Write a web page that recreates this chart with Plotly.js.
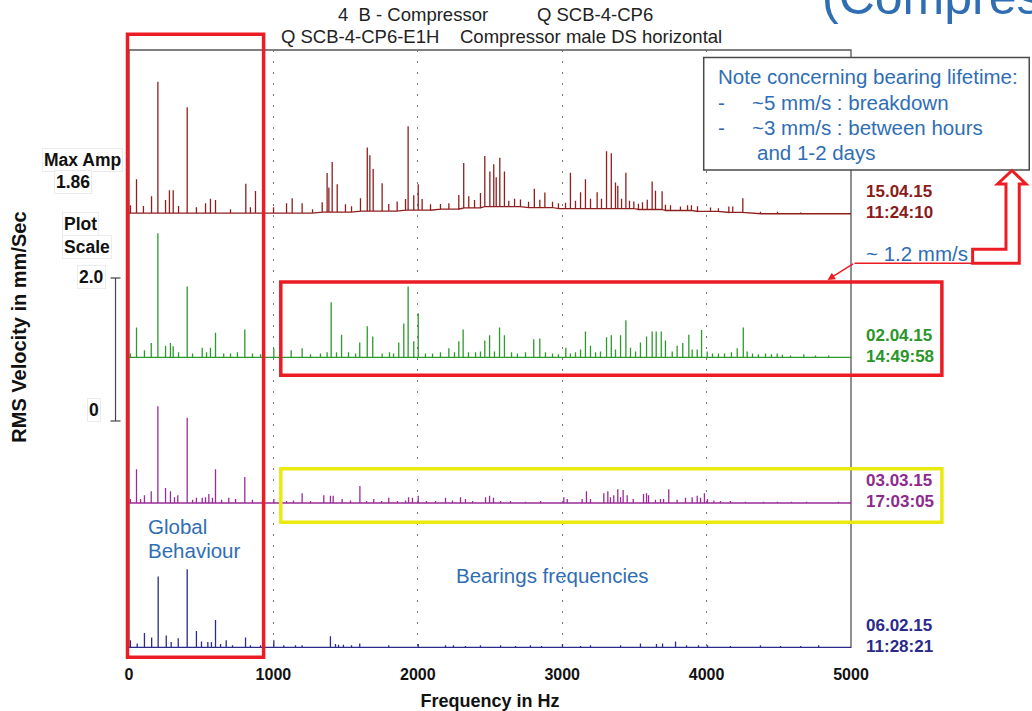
<!DOCTYPE html>
<html><head><meta charset="utf-8">
<script src="https://cdn.plot.ly/plotly-3.0.1.min.js"></script>
<style>html,body{margin:0;padding:0;background:#fff;overflow:hidden}#chart{width:1032px;height:711px}</style>
</head><body><div id="chart"></div>
<script>
// ---------------- data ----------------
const freqTicks = [0, 1000, 2000, 3000, 4000, 5000];
const freqTickLabels = ['0', '1000', '2000', '3000', '4000', '5000'];

const seriesDates = ['15.04.15', '02.04.15', '03.03.15', '06.02.15'];
const seriesTimes = ['11:24:10', '14:49:58', '17:03:05', '11:28:21'];

// 15.04.15 spectrum (Hz, mm/s above local floor)
const redFreq = [10,52,100,156,200,253,280,306,343,403,
  467,530,564,599,703,809,841,876,1001,1091,
  1130,1199,1271,1338,1372,1384,1407,1442,1499,1541,
  1603,1650,1668,1691,1753,1799,1857,1915,1933,1972,
  2003,2030,2088,2157,2215,2284,2318,2353,2393,2434,
  2464,2499,2526,2543,2568,2600,2630,2670,2711,2767,
  2807,2845,2880,2933,2974,3023,3057,3092,3127,3161,
  3196,3242,3272,3307,3340,3369,3385,3411,3441,3466,
  3496,3528,3556,3589,3623,3646,3692,3715,3750,3819,
  3868,3895,3937,4027,4082,4154,4181,4251,4373,4491,
  4651];
const redAmp = [0.12,0.52,0.11,0.26,2.02,0.20,0.35,0.35,0.11,1.63,
  0.09,0.15,0.22,0.20,0.06,0.45,0.09,0.34,0.09,0.15,
  0.23,0.15,0.06,0.15,0.60,0.38,0.77,0.43,0.12,0.09,
  0.20,0.98,0.86,0.65,0.43,0.11,0.15,0.17,1.29,0.23,
  0.40,0.17,0.09,0.08,0.09,0.22,0.69,0.18,0.12,0.23,
  0.78,0.54,0.65,0.45,0.75,0.54,0.09,0.12,0.11,0.09,
  0.29,0.12,0.23,0.09,0.08,0.09,0.55,0.12,0.25,0.45,
  0.15,0.25,0.15,0.88,0.85,0.40,0.35,0.15,0.55,0.12,
  0.11,0.09,0.11,0.15,0.43,0.29,0.28,0.09,0.08,0.06,
  0.08,0.08,0.08,0.06,0.05,0.09,0.09,0.22,0.03,0.03,
  0.02];
// noise-floor hump of the 15.04.15 spectrum (start Hz, level)
const redFloorFreq  = [0, 1300, 1600, 1900, 2100, 2300, 2450, 2750, 2950, 3500, 3700, 3900, 4100, 4300];
const redFloorLevel = [0, 0.015, 0.03, 0.045, 0.06, 0.08, 0.10, 0.085, 0.07, 0.055, 0.04, 0.025, 0.01, -0.01];

// 02.04.15 spectrum
const greenFreq = [10,52,107,154,200,253,287,306,343,403,
  440,507,537,564,599,656,703,751,802,855,
  911,1003,1123,1199,1257,1326,1372,1400,1437,1472,
  1520,1569,1598,1650,1688,1753,1804,1832,1868,1903,
  1933,1972,2003,2053,2102,2157,2215,2254,2284,2314,
  2351,2400,2434,2464,2497,2531,2566,2600,2649,2690,
  2746,2803,2845,2884,2933,2974,3025,3057,3092,3127,
  3161,3196,3231,3265,3307,3340,3369,3404,3441,3473,
  3508,3542,3584,3623,3651,3686,3715,3762,3796,3835,
  3877,3900,3935,3965,4004,4041,4082,4124,4172,4212,
  4254,4281,4318,4359,4408,4449,4489,4525,4581,4673,
  4754,4846];
const greenAmp = [0.06,0.46,0.11,0.22,1.91,0.18,0.22,0.17,0.08,1.09,
  0.06,0.15,0.08,0.15,0.38,0.06,0.06,0.08,0.43,0.06,
  0.05,0.14,0.11,0.14,0.05,0.06,0.08,0.85,0.08,0.35,
  0.08,0.06,0.23,0.48,0.32,0.06,0.08,0.06,0.23,0.52,
  1.09,0.25,0.68,0.06,0.06,0.08,0.14,0.08,0.25,0.43,
  0.08,0.08,0.09,0.26,0.34,0.09,0.46,0.34,0.08,0.06,
  0.08,0.28,0.29,0.08,0.06,0.05,0.15,0.06,0.08,0.12,
  0.40,0.18,0.08,0.09,0.31,0.34,0.12,0.34,0.57,0.15,
  0.09,0.23,0.32,0.40,0.40,0.40,0.26,0.09,0.18,0.22,
  0.35,0.12,0.12,0.42,0.09,0.06,0.06,0.06,0.08,0.14,
  0.46,0.09,0.06,0.05,0.06,0.05,0.06,0.04,0.03,0.05,
  0.03,0.03];

// 03.03.15 spectrum
const purpleFreq = [10,52,80,107,154,200,253,287,315,338,
  403,440,467,507,530,553,578,599,641,691,
  738,802,855,924,1003,1091,1139,1199,1257,1349,
  1395,1414,1476,1534,1599,1645,1695,1749,1799,1859,
  1915,1936,1963,2003,2060,2123,2192,2240,2296,2330,
  2379,2469,2497,2524,2573,2642,2746,2850,3011,3035,
  3138,3168,3196,3288,3316,3334,3357,3385,3404,3422,
  3450,3492,3563,3584,3598,3646,3681,3702,3738,3796,
  3854,3900,3935,3958,3985,4006,4050,4096,4165,4269,
  4394,4491,4588,4692,4913];
const purpleAmp = [0.06,0.52,0.06,0.12,0.18,1.49,0.23,0.18,0.09,0.12,
  1.31,0.05,0.08,0.08,0.09,0.14,0.08,0.52,0.05,0.08,
  0.06,0.40,0.05,0.03,0.06,0.03,0.04,0.15,0.03,0.12,
  0.11,0.11,0.06,0.04,0.26,0.03,0.06,0.03,0.08,0.03,
  0.04,0.09,0.08,0.11,0.03,0.03,0.08,0.04,0.09,0.06,
  0.03,0.09,0.11,0.08,0.03,0.03,0.02,0.03,0.09,0.06,
  0.06,0.18,0.06,0.15,0.18,0.09,0.12,0.21,0.09,0.20,
  0.12,0.06,0.14,0.15,0.12,0.05,0.06,0.06,0.21,0.05,
  0.08,0.09,0.11,0.08,0.15,0.06,0.04,0.03,0.03,0.02,
  0.02,0.02,0.02,0.02,0.02];

// 06.02.15 spectrum
const navyFreq = [10,57,107,157,202,258,292,341,403,467,
  502,546,571,599,634,673,717,807,841,911,
  1003,1072,1153,1199,1395,1430,1451,1485,1541,1598,
  1799,2003,2192,2247,2330,2434,2573,2677,2780,2857,
  3002,3127,3196,3404,3542,3653,3695,3785,3861,3944,
  4006,4165,4373,4512,4651,4776];
const navyAmp = [0.11,0.06,0.22,0.15,1.09,0.18,0.08,0.14,1.20,0.25,
  0.09,0.08,0.08,0.42,0.05,0.11,0.03,0.15,0.03,0.03,
  0.11,0.03,0.03,0.03,0.17,0.05,0.04,0.04,0.03,0.06,
  0.03,0.05,0.03,0.03,0.02,0.03,0.03,0.02,0.03,0.02,
  0.05,0.02,0.03,0.03,0.06,0.05,0.06,0.09,0.03,0.03,
  0.03,0.02,0.03,0.02,0.02,0.03];

// ---------------- geometry helpers ----------------
const W = 1032, H = 711;
const PL = 128.5, PR = 851.5, PT = 50, PB = 648;
const X = px => (px - PL) / (PR - PL);
const Y = py => (PB - py) / (PB - PT);
const FONT = 'Arial, "Liberation Sans", sans-serif';
const BLUE = '#2F6EB3';
const RED = '#EC1C24';

const zeroFloor = () => 0;
const redFloor = f => { let lv = 0; for (let i = 0; i < redFloorFreq.length; i++) if (redFloorFreq[i] <= f) lv = redFloorLevel[i]; return lv; };

const series = [
  {freq: redFreq, amp: redAmp, off: 6.68, color: '#8E1F1F', label: '#8B1A1A', floor: redFloor},
  {freq: greenFreq, amp: greenAmp, off: 4.46, color: '#2C9A2C', label: '#2A962A', floor: zeroFloor},
  {freq: purpleFreq, amp: purpleAmp, off: 2.22, color: '#9A2C9A', label: '#8E2A8E', floor: zeroFloor},
  {freq: navyFreq, amp: navyAmp, off: 0, color: '#2B2B8C', label: '#2A2A8A', floor: zeroFloor}
];

const traces = series.map(s => {
  const x = [0], y = [s.off + s.floor(0)];
  s.freq.forEach((f, i) => {
    const fl = s.off + s.floor(f);
    x.push(f, f, f); y.push(fl, fl + s.amp[i], fl);
  });
  x.push(5000); y.push(s.off + s.floor(5000));
  return {x, y, type: 'scatter', mode: 'lines', line: {color: s.color, width: 1.3}, hoverinfo: 'skip', showlegend: false};
});

// ---------------- annotations ----------------
function txt(text, px, py, o = {}) {
  return Object.assign({xref: 'paper', yref: 'paper', x: X(px), y: Y(py), text, showarrow: false,
    xanchor: 'center', yanchor: 'middle', font: {family: FONT, size: 17, color: '#111'}}, o);
}
const ann = [];
const titleF = {family: FONT, size: 18.5, color: '#222'};
ann.push(txt('4  B - Compressor', 413, 15, {font: titleF}));
ann.push(txt('Q SCB-4-CP6', 595, 15, {font: titleF}));
ann.push(txt('Q SCB-4-CP6-E1H', 360, 37, {font: titleF}));
ann.push(txt('Compressor male DS horizontal', 591, 37, {font: titleF}));
// big heading, cut off by the top-right corner as in the reference
ann.push(txt('(Compressor', 820, 27, {xanchor: 'left', yanchor: 'bottom', font: {family: FONT, size: 50, color: BLUE}}));
// y axis title
ann.push(txt('RMS Velocity in mm/Sec', 18, 327, {textangle: -90, font: {family: FONT, size: 20, color: '#111', weight: 'bold'}}));
// left info labels
const boxed = {bgcolor: '#fff', bordercolor: '#ececec', borderwidth: 1, borderpad: 1};
const bold17 = {family: FONT, size: 17.5, color: '#111', weight: 'bold'};
ann.push(txt('Max Amp', 82, 160, Object.assign({font: bold17}, boxed)));
ann.push(txt('1.86', 72, 182, Object.assign({font: bold17}, boxed)));
ann.push(txt('Plot', 80, 224, Object.assign({font: bold17}, boxed)));
ann.push(txt('Scale', 86, 247, Object.assign({font: bold17}, boxed)));
ann.push(txt('2.0', 91, 277, Object.assign({font: bold17}, boxed)));
ann.push(txt('0', 93, 410, Object.assign({font: bold17}, boxed)));
// date / time labels on the right
series.forEach((s, i) => {
  const basePx = PB - (s.off / 9.2) * (PB - PT) - 0.7;
  const f = {family: FONT, size: 17, color: s.label, weight: 'bold'};
  ann.push(txt(seriesDates[i], 866, basePx - 11.5, {xanchor: 'left', yanchor: 'bottom', borderpad: 0, font: f}));
  ann.push(txt(seriesTimes[i], 866, basePx - 11.5, {xanchor: 'left', yanchor: 'top', borderpad: 0, font: f}));
});
// blue comments
const blueF = {family: FONT, size: 20.5, color: BLUE};
ann.push(txt('Note concerning bearing lifetime:', 716, 77, {xanchor: 'left', font: blueF}));
ann.push(txt('-', 716, 102, {xanchor: 'left', font: blueF}));
ann.push(txt('~5 mm/s : breakdown', 750, 102, {xanchor: 'left', font: blueF}));
ann.push(txt('-', 716, 127, {xanchor: 'left', font: blueF}));
ann.push(txt('~3 mm/s : between hours', 750, 127, {xanchor: 'left', font: blueF}));
ann.push(txt('and 1-2 days', 755, 152, {xanchor: 'left', font: blueF}));
ann.push(txt('~ 1.2 mm/s', 865, 253, {xanchor: 'left', font: blueF}));
ann.push(txt('Global', 146, 526, {xanchor: 'left', font: blueF}));
ann.push(txt('Behaviour', 146, 550, {xanchor: 'left', font: blueF}));
ann.push(txt('Bearings frequencies', 454, 575, {xanchor: 'left', font: blueF}));
// thin red pointer arrow
ann.push({xref: 'paper', yref: 'paper', x: X(828), y: Y(280), ax: 27, ay: -17, text: '', showarrow: true,
  arrowhead: 2, arrowsize: 1, arrowwidth: 1.5, arrowcolor: RED});

// ---------------- shapes ----------------
const P = pts => 'M' + pts.map(p => X(p[0]) + ',' + Y(p[1])).join(' L') + ' Z';
const shapes = [
  {type: 'path', xref: 'paper', yref: 'paper', path: 'M0,0 L0,1 L1,1 L1,0', line: {color: '#555', width: 1.3}, layer: 'below'},
  {type: 'line', xref: 'paper', yref: 'paper', x0: X(115), x1: X(115), y0: Y(278), y1: Y(421), line: {color: '#444', width: 1.2}},
  {type: 'line', xref: 'paper', yref: 'paper', x0: X(110), x1: X(120), y0: Y(278), y1: Y(278), line: {color: '#444', width: 1.2}},
  {type: 'line', xref: 'paper', yref: 'paper', x0: X(110), x1: X(120), y0: Y(421), y1: Y(421), line: {color: '#444', width: 1.2}},
  {type: 'rect', xref: 'paper', yref: 'paper', x0: X(127), x1: X(263.3), y0: Y(657.3), y1: Y(34.3), line: {color: RED, width: 3.5}},
  {type: 'rect', xref: 'paper', yref: 'paper', x0: X(280.5), x1: X(942.5), y0: Y(375.3), y1: Y(282), line: {color: RED, width: 3.5}},
  {type: 'rect', xref: 'paper', yref: 'paper', x0: X(280.5), x1: X(942.5), y0: Y(522.3), y1: Y(468.7), line: {color: '#EAEA10', width: 3.5}},
  {type: 'rect', xref: 'paper', yref: 'paper', x0: X(704), x1: X(1030), y0: Y(170), y1: Y(57.5), line: {color: '#4a4a4a', width: 1.5}, fillcolor: '#fff'},
  {type: 'path', xref: 'paper', yref: 'paper', path: P([[973.3,249.3],[1006.7,249.3],[1006.7,184],[998.3,184],[1012.7,170.5],[1026.7,184],[1020,184],[1020,263.3],[973.3,263.3]]),
    line: {color: RED, width: 3}, fillcolor: '#fff'},
  {type: 'line', xref: 'paper', yref: 'paper', x0: X(855), x1: X(973), y0: Y(263.3), y1: Y(263.3), line: {color: RED, width: 1.5}}
];

const layout = {
  width: W, height: H,
  margin: {l: PL, r: W - PR, t: PT, b: H - PB, pad: 0},
  paper_bgcolor: '#fff', plot_bgcolor: '#fff',
  showlegend: false,
  xaxis: {
    range: [0, 5000], tickvals: freqTicks, ticktext: freqTickLabels,
    showgrid: true, gridcolor: '#777', gridwidth: 1.3, griddash: '2px,9px',
    zeroline: false, showline: false,
    ticks: 'outside', ticklen: 12, tickcolor: 'rgba(0,0,0,0)',
    tickfont: {family: FONT, size: 16, color: '#111', weight: 'bold'},
    title: {text: 'Frequency in Hz', font: {family: FONT, size: 18, color: '#111', weight: 'bold'}, standoff: 12},
    fixedrange: true
  },
  yaxis: {range: [-0.011, 9.189], visible: false, fixedrange: true},
  annotations: ann,
  shapes: shapes
};

Plotly.newPlot('chart', traces, layout, {staticPlot: true, displayModeBar: false});
</script></body></html>
